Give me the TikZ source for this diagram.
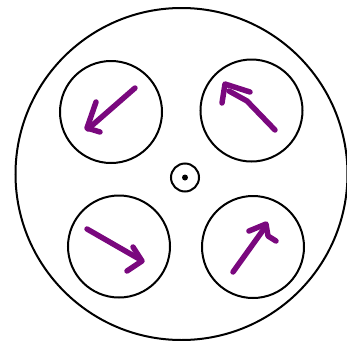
\documentclass[tikz,border=0pt]{standalone}
\usepackage{tikz}
\usetikzlibrary{positioning}
\usepackage{xcolor}
\definecolor{reelpurple}{HTML}{7A087E}
\definecolor{ink}{HTML}{000000}

\begin{document}
\begin{tikzpicture}[
  x=0.75pt,y=-0.75pt,
  drum/.style={circle,draw=ink,line width=1.5pt,inner sep=0pt,minimum size=249pt},
  bore/.style={circle,draw=ink,line width=1.5pt,inner sep=0pt,minimum size=76.5pt},
  pivot/.style={circle,draw=ink,line width=1.5pt,inner sep=0pt,minimum size=21pt},
  spin/.style={draw=reelpurple,line width=4.1pt,line cap=round,line join=round}
]
\useasboundingbox (0,0) rectangle (347,340);
\node[drum] (reel) at (181.5,174) {};
\node[bore] (tl) at (111,112) {};
\node[bore] (tr) at (251.5,110.5) {};
\node[bore] (bl) at (119,246.5) {};
\node[bore] (br) at (253,247) {};
\node[pivot] (hub) at (185,177.5) {};
\fill[ink] (hub.center) circle[radius=3];
% strokes inside the bores
\draw[spin] (135,88) -- (88,129);
\draw[spin] (96,102) -- (87,128) -- (100,132);
\draw[spin] (275,130) -- (247,101) -- (229,91);
\draw[spin] (222,103) -- (225,84) -- (250,92);
\draw[spin] (87,229) -- (141,260);
\draw[spin] (133,247) -- (142,261) -- (127,271);
\draw[spin] (233,272) -- (266,226);
\draw[spin] (249,231) -- (266,224) -- (268,236) -- (276,241);
\end{tikzpicture}
\end{document}
